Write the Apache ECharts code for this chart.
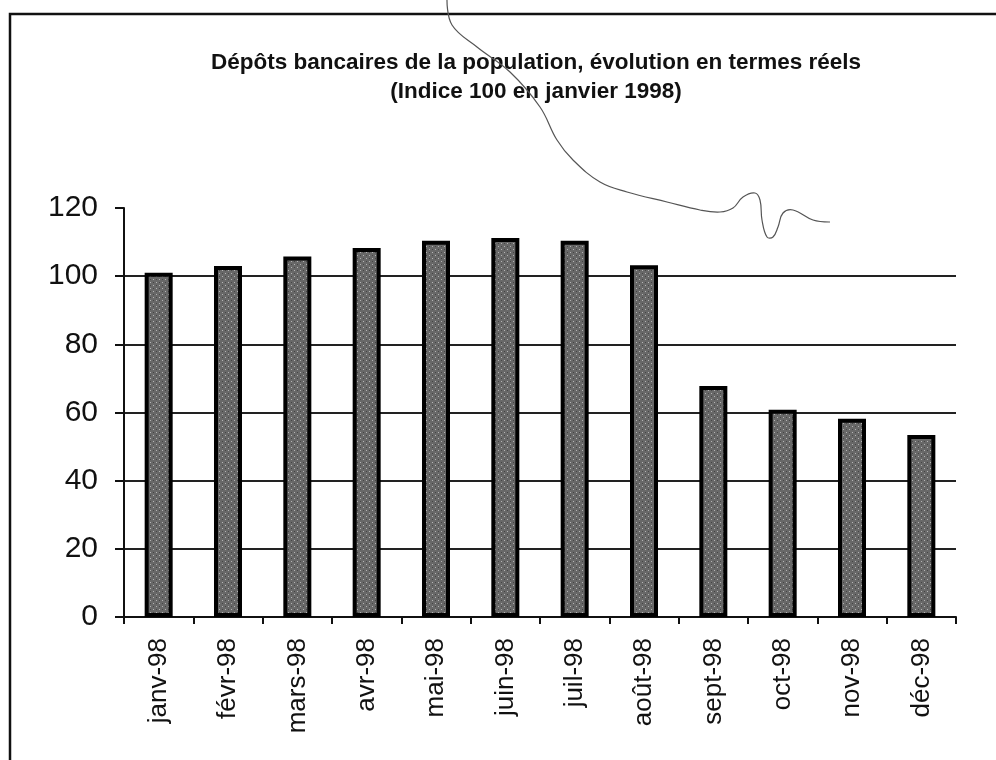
<!DOCTYPE html>
<html>
<head>
<meta charset="utf-8">
<script src="https://cdn.jsdelivr.net/npm/echarts@6/dist/echarts.min.js"></script>
<style>html,body{margin:0;padding:0;background:#fff}#c{width:996px;height:760px}</style>
</head>
<body>
<div id="c"></div>
<script>
const categories = ['janv-98','févr-98','mars-98','avr-98','mai-98','juin-98','juil-98','août-98','sept-98','oct-98','nov-98','déc-98'];
const values = [101, 103, 105.8, 108.3, 110.4, 111.2, 110.4, 103.2, 67.8, 60.8, 58.2, 53.4];
const yTicks = {min: 0, max: 120, interval: 20};
const titleLines = ['Dépôts bancaires de la population, évolution en termes réels', '(Indice 100 en janvier 1998)'];

// dotted grey fill pattern like the scanned hatch
const pc = document.createElement('canvas');
pc.width = 6; pc.height = 6;
const pctx = pc.getContext('2d');
pctx.fillStyle = '#686868';
pctx.fillRect(0, 0, 6, 6);
pctx.fillStyle = '#b4b4b4';
pctx.fillRect(0, 0, 1, 1);
pctx.fillRect(3, 3, 1, 1);
pctx.fillStyle = '#444';
pctx.fillRect(3, 0, 1, 1);
pctx.fillRect(0, 3, 1, 1);

const chart = echarts.init(document.getElementById('c'), null, {renderer: 'canvas'});
chart.setOption({
  animation: false,
  backgroundColor: '#fff',
  title: {
    text: titleLines.join('\n'),
    left: 531, textAlign: 'center', top: 43,
    textStyle: {fontFamily: 'Liberation Sans, Arial, sans-serif', fontWeight: 'bold', fontSize: 22.5, lineHeight: 29, color: '#111'}
  },
  grid: {left: 124, right: 40, top: 208, bottom: 143, containLabel: false},
  xAxis: {
    type: 'category', data: categories, boundaryGap: true,
    axisLine: {lineStyle: {color: '#111', width: 2}},
    axisTick: {show: true, length: 7, lineStyle: {color: '#111', width: 2}},
    axisLabel: {rotate: 90, margin: 21, fontFamily: 'Liberation Sans, Arial, sans-serif', fontSize: 26, color: '#111'}
  },
  yAxis: {
    type: 'value', min: yTicks.min, max: yTicks.max, interval: yTicks.interval,
    axisLine: {show: true, lineStyle: {color: '#111', width: 2}},
    axisTick: {show: true, inside: false, length: 9, lineStyle: {color: '#111', width: 2}},
    axisLabel: {margin: 26, fontFamily: 'Liberation Sans, Arial, sans-serif', fontSize: 30, color: '#111'},
    splitLine: {show: true, showMaxLine: false, showMinLine: false, lineStyle: {color: '#222', width: 2}}
  },
  series: [{
    type: 'bar', data: values, barWidth: 28,
    itemStyle: {color: {image: pc, repeat: 'repeat'}, borderColor: '#000', borderWidth: 4}
  }],
  graphic: [
    {type: 'rect', shape: {x: 10, y: 14, width: 1010, height: 800}, style: {fill: null, stroke: '#111', lineWidth: 2.5}, silent: true},
    {type: 'polyline', shape: {smooth: 0.4, points: [[447,0],[452,25],[477,47],[510,72],[540,107],[557,140],[573,160],[600,182],[627,192],[667,202],[700,210],[720,212],[733,208],[743,197],[755,193],[760,200],[762,220],[767,237],[773,237],[778,227],[783,213],[793,210],[813,220],[830,222]]}, style: {fill: null, stroke: '#555', lineWidth: 1.2}, silent: true, z: 100}
  ]
});
</script>
</body>
</html>
